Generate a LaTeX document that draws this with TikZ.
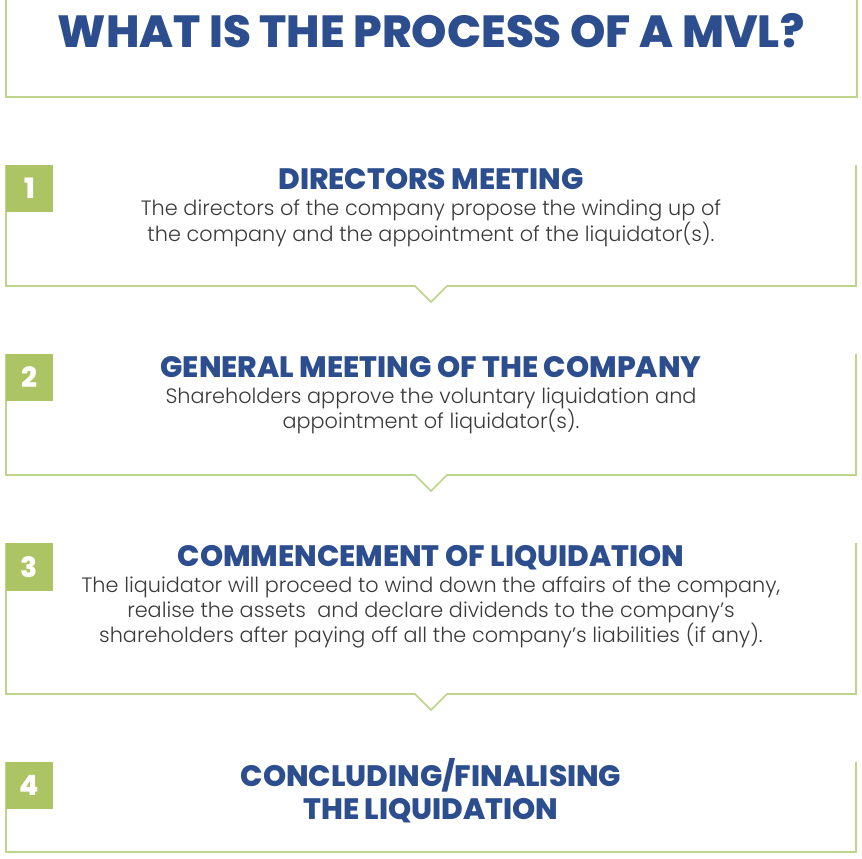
\documentclass[tikz,border=0pt]{standalone}
\usepackage{fontspec}
\setmainfont{Poppins}[UprightFont=*-Light, BoldFont=*-Bold]
\newfontfamily\mvlblack{Poppins}[UprightFont=*-ExtraBold]
\usetikzlibrary{positioning}
\definecolor{mvlline}{RGB}{190,212,138}
\definecolor{mvlbadge}{RGB}{172,196,100}
\definecolor{mvlblue}{RGB}{44,78,142}
\definecolor{mvltext}{RGB}{58,58,58}
\tikzset{
  frame/.style={draw=mvlline, line width=1.6pt, line join=miter},
  badge/.style={fill=mvlbadge, draw=none},
  num/.style={text=white, font=\mvlblack\fontsize{28}{28}\selectfont, inner sep=0pt},
  title/.style={text=mvlblue, font=\mvlblack\fontsize{45}{45}\selectfont, inner sep=0pt},
  head/.style={text=mvlblue, font=\mvlblack\fontsize{29.5}{33}\selectfont, inner sep=0pt,
    align=center, text depth=0pt},
  body/.style={text=mvltext, font=\fontsize{20.8}{25}\selectfont, inner sep=0pt, align=center}
}
\begin{document}
\begin{tikzpicture}[x=1pt, y=-1pt, node distance=9.5pt]
  \useasboundingbox (0,0) rectangle (862,859);
  % title frame
  \draw[frame] (6,0) -- (6,97) -- (857,97) -- (857,0);
  \node[title] (ttl) at (431,31) {WHAT IS THE PROCESS OF A MVL?};
  % step 1
  \draw[frame] (6,165) -- (6,286) -- (415,286) -- (431,302) -- (447,286) -- (856,286) -- (856,165);
  \fill[badge] (6,165) rectangle (53,212);
  \node[num] (n1) at (29.5,188.5) {1};
  \node[head] (h1) at (431,179) {DIRECTORS MEETING};
  \node[body, below=of h1] (b1)
    {The directors of the company propose the winding up of\\
     the company and the appointment of the liquidator(s).};
  % step 2
  \draw[frame] (6,354) -- (6,475) -- (415,475) -- (431,491) -- (447,475) -- (856,475) -- (856,354);
  \fill[badge] (6,354) rectangle (53,401);
  \node[num] (n2) at (29.5,377.5) {2};
  \node[head] (h2) at (431,367) {GENERAL MEETING OF THE COMPANY};
  \node[body, below=of h2] (b2)
    {Shareholders approve the voluntary liquidation and\\
     appointment of liquidator(s).};
  % step 3
  \draw[frame] (6,543) -- (6,694) -- (415,694) -- (431,710) -- (447,694) -- (856,694) -- (856,543);
  \fill[badge] (6,543) rectangle (53,591);
  \node[num] (n3) at (29.5,567) {3};
  \node[head] (h3) at (431,556) {COMMENCEMENT OF LIQUIDATION};
  \node[body, below=of h3] (b3)
    {The liquidator will proceed to wind down the affairs of the company,\\
     realise the assets\ \ and declare dividends to the company’s\\
     shareholders after paying off all the company’s liabilities (if any).};
  % step 4
  \draw[frame] (6,762) -- (6,852) -- (856,852) -- (856,762);
  \fill[badge] (6,762) rectangle (53,809);
  \node[num] (n4) at (29.5,785.5) {4};
  \node[head] (h4) at (431,789) {CONCLUDING/FINALISING\\THE LIQUIDATION};
\end{tikzpicture}
\end{document}
